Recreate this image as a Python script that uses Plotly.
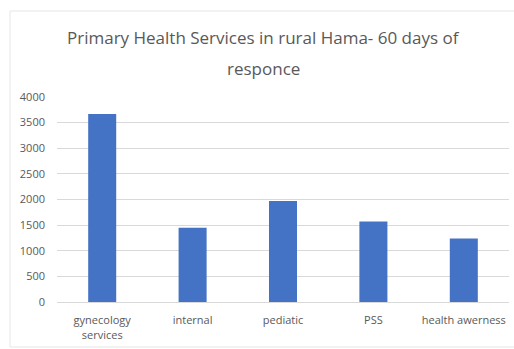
import plotly.graph_objects as go

# Service categories and number of consultations
categories = ["gynecology<br>services", "internal", "pediatic", "PSS", "health awerness"]
values = [3670, 1450, 1970, 1570, 1240]
y_ticks = [0, 500, 1000, 1500, 2000, 2500, 3000, 3500, 4000]
title_lines = ["Primary Health Services in rural Hama- 60 days of", "responce"]

W, H = 514, 349
L, R, T, B = 57, 5, 97, 47
pw = W - L - R
ph = H - T - B

def px_x(p):
    return (p - L) / pw

def px_y(p):
    return (H - B - p) / ph

fig = go.Figure(
    go.Bar(
        x=categories,
        y=values,
        marker=dict(color="#4472C4", line=dict(width=0)),
    )
)

# Two-line title drawn as separate annotations for line spacing control
title_annotations = [
    dict(
        text=line,
        xref="paper",
        yref="paper",
        x=px_x(W / 2 + 6),
        y=px_y(cy),
        xanchor="center",
        yanchor="middle",
        showarrow=False,
        font=dict(family="Open Sans", size=17, color="#595959"),
    )
    for line, cy in zip(title_lines, [38, 68])
]

fig.update_layout(
    width=W,
    height=H,
    margin=dict(l=L, r=R, t=T, b=B),
    paper_bgcolor="white",
    plot_bgcolor="white",
    bargap=0.69,
    showlegend=False,
    font=dict(family="Open Sans", color="#595959", size=11),
    annotations=title_annotations,
    xaxis=dict(
        showgrid=False,
        showline=True,
        linecolor="#d9d9d9",
        ticks="",
        ticklabelstandoff=8,
        tickfont=dict(size=11, color="#595959"),
    ),
    yaxis=dict(
        range=[0, 4000],
        tickvals=y_ticks,
        showgrid=True,
        gridcolor="#d9d9d9",
        zeroline=False,
        showline=False,
        ticks="",
        ticklabelstandoff=11,
        tickfont=dict(size=11, color="#595959"),
    ),
    shapes=[
        dict(
            type="rect",
            xref="paper",
            yref="paper",
            x0=px_x(10),
            x1=px_x(520),
            y0=px_y(347),
            y1=px_y(11),
            line=dict(color="#e6e6e6", width=1),
            fillcolor="rgba(0,0,0,0)",
            layer="below",
        )
    ],
)

fig.write_html("out.html")
